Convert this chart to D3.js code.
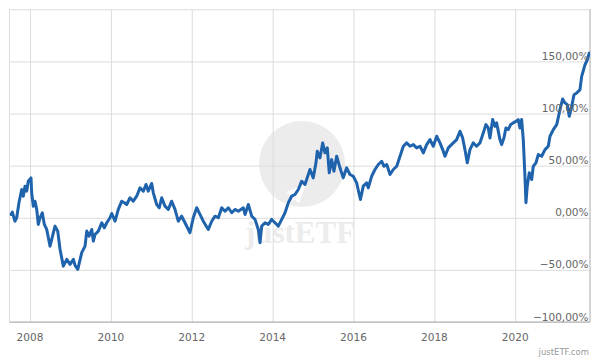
<!DOCTYPE html>
<html><head><meta charset="utf-8">
<script src="https://cdn.jsdelivr.net/npm/d3@7"></script>
<style>
html,body{margin:0;padding:0;background:#fff;}
svg{display:block;font-family:"DejaVu Sans",Verdana,sans-serif;}
</style></head>
<body><svg id="c" width="600" height="360"></svg>
<script>
// decimal years (time axis) and cumulative performance in %
const years = [2007.530,2007.562,2007.629,2007.671,2007.728,2007.795,2007.834,2007.876,2007.918,2007.958,
2008.025,2008.042,2008.082,2008.124,2008.166,2008.205,2008.247,2008.304,2008.354,2008.413,2008.495,2008.576,2008.618,2008.685,2008.742,2008.823,2008.908,2008.989,
2009.071,2009.113,2009.180,2009.278,2009.360,2009.402,2009.459,2009.526,2009.565,2009.607,2009.689,2009.773,2009.837,2009.897,2009.978,
2010.020,2010.102,2010.183,2010.268,2010.332,2010.391,2010.473,2010.554,2010.638,2010.720,2010.802,2010.868,2010.925,
2011.009,2011.049,2011.133,2011.197,2011.257,2011.338,2011.420,2011.504,2011.586,2011.667,2011.751,2011.833,2011.914,2011.956,
2012.038,2012.122,2012.204,2012.285,2012.409,2012.493,2012.575,2012.656,2012.740,2012.822,2012.903,2012.988,
2013.069,2013.151,2013.274,2013.317,2013.398,2013.482,2013.564,2013.645,2013.687,2013.729,2013.811,2013.893,2013.977,
2014.058,2014.140,2014.224,2014.306,2014.387,2014.471,2014.553,2014.635,2014.719,2014.800,2014.882,2014.924,
2015.005,2015.072,2015.104,2015.171,2015.238,2015.295,2015.352,2015.401,2015.460,2015.517,2015.584,2015.666,2015.747,2015.831,2015.913,2015.995,
2016.078,2016.172,2016.242,2016.326,2016.365,2016.449,2016.531,2016.613,2016.697,2016.754,2016.821,2016.902,2016.984,
2017.068,2017.149,2017.231,2017.315,2017.397,2017.478,2017.562,2017.644,2017.726,2017.809,2017.891,2017.973,
2018.057,2018.138,2018.205,2018.262,2018.343,2018.467,2018.551,2018.633,2018.699,2018.756,2018.813,2018.880,2018.961,
2019.045,2019.127,2019.209,2019.276,2019.333,2019.375,2019.442,2019.498,2019.540,2019.622,2019.664,2019.721,2019.770,2019.827,2019.887,2019.951,
2020.018,2020.075,2020.117,2020.159,2020.199,2020.240,2020.265,2020.297,2020.347,2020.406,2020.446,2020.512,2020.569,2020.653,2020.735,2020.816,2020.858,2020.940,
2021.024,2021.105,2021.172,2021.229,2021.286,2021.335,2021.395,2021.452,2021.519,2021.600,2021.642,2021.724,2021.781,2021.830];
const values = [3.2,5.4,-3.3,0,14.7,27.1,20.7,30.3,25.5,35.1,
38.3,23.9,11.1,15.9,8.0,-6.4,0,4.8,-6.4,-11.2,-27.2,-14.4,-8.0,-12.8,-30.4,-46.4,-39.9,-44.7,
-39.9,-45.7,-49.5,-33.5,-27.2,-12.8,-17.6,-11.2,-22.4,-16.0,-12.8,-4.8,-9.6,-4.8,0,
4.1,-3.3,8.0,15.9,14.4,12.7,19.2,15.9,20.7,28.7,25.5,31.9,25.5,
32.9,23.9,12.7,9.6,19.2,11.1,8.0,15.9,8.0,-3.3,1.5,-4.8,-11.2,-14.4,
0,9.6,3.2,-3.3,-11.2,-3.3,1.5,0,9.6,6.3,9.6,4.8,
8.0,6.3,9.6,3.2,12.7,1.5,-1.6,-11.2,-23.9,-8.0,-4.8,-6.4,-1.6,
-4.8,-8.0,-1.6,4.8,14.4,20.7,22.3,27.1,35.1,31.9,41.5,46.3,
38.3,52.7,63.8,57.5,71.8,62.3,67.0,43.1,55.8,44.6,59.0,47.9,38.3,47.9,41.5,39.8,
33.5,17.5,30.3,33.5,28.7,39.8,46.3,51.1,54.2,49.4,51.1,41.5,46.3,
49.4,59.0,68.6,71.8,68.6,70.2,67.0,68.6,62.3,70.2,75.0,68.6,
78.2,71.8,65.4,59.0,67.0,71.8,75.0,83.0,76.6,65.4,52.7,65.4,71.8,
68.6,71.8,81.4,89.4,86.2,76.6,94.2,87.7,91.0,75.0,70.2,76.6,86.2,84.6,89.4,91.0,
92.5,94.2,86.2,94.2,75.0,39.8,14.4,30.3,43.1,36.7,49.4,52.7,60.6,59.0,65.4,68.6,78.2,84.6,
89.4,103.7,114.0,110.2,108.5,97.3,106.9,118.1,119.7,122.9,135.6,146.8,151.6,158.0];
const xTickYears = [2008,2010,2012,2014,2016,2018,2020];
const yTicks = [-100,-50,0,50,100,150,200];
const yLabelTicks = [-100,-50,0,50,100,150];

function toDate(y){
  const yr = Math.floor(y);
  const s = Date.UTC(yr,0,1), e = Date.UTC(yr+1,0,1);
  return new Date(s + (y-yr)*(e-s));
}
const data = years.map((y,i)=>({date:toDate(y), value:values[i]}));

const L=9.5, R=590, T=9.3, B=322;
const x = d3.scaleUtc().domain([toDate(2007.493), toDate(2021.848)]).range([L,R]);
const y = d3.scaleLinear().domain([-100,200]).range([B,T]);

const svg = d3.select("#c");
const fmt = v => d3.format(".2f")(v).replace(".",",").replace("-", "-") + "%";

// watermark
const wm = svg.append("g");
wm.append("circle").attr("cx",302).attr("cy",164).attr("r",43).attr("fill","#ececec");
wm.append("path").attr("d","M252,252 C268,225 282,205 292,196 L286,192 L306,184 L299,203 L294,199 C284,210 270,230 258,254 Z").attr("fill","#fff");
wm.append("text").attr("x",300).attr("y",243).attr("text-anchor","middle")
  .attr("font-family","'Liberation Serif','DejaVu Serif',serif").attr("font-weight","bold")
  .attr("font-size",31).attr("fill","#ececec").text("justETF");

// grid
const gridColor="#dcdcdc";
svg.append("g").attr("transform",`translate(0,${B})`)
  .call(d3.axisBottom(x).tickValues(xTickYears.map(v=>toDate(v))).tickSize(-(B-T)).tickFormat(""))
  .call(g=>g.select(".domain").remove())
  .call(g=>g.selectAll("line").attr("stroke",gridColor));
svg.append("g").attr("transform",`translate(${L},0)`)
  .call(d3.axisLeft(y).tickValues(yTicks).tickSize(-(R-L)).tickFormat(""))
  .call(g=>g.select(".domain").remove())
  .call(g=>g.selectAll("line").attr("stroke",gridColor));
svg.append("line").attr("x1",L).attr("x2",L).attr("y1",T).attr("y2",B).attr("stroke",gridColor);
svg.append("line").attr("x1",R).attr("x2",R).attr("y1",T).attr("y2",B).attr("stroke","#aaa");
svg.append("line").attr("x1",L).attr("x2",R).attr("y1",B).attr("y2",B).attr("stroke","#aaa");

// line
svg.append("defs").append("clipPath").attr("id","clip").append("rect")
  .attr("x",L).attr("y",T).attr("width",R-L).attr("height",B-T);
svg.append("path").datum(data).attr("clip-path","url(#clip)")
  .attr("fill","none").attr("stroke","#1f63ad").attr("stroke-width",3)
  .attr("stroke-linejoin","round").attr("stroke-linecap","round")
  .attr("d", d3.line().x(d=>x(d.date)).y(d=>y(d.value)));

// y labels (inside, right)
svg.append("g").selectAll("text").data(yLabelTicks).join("text")
  .attr("x",588.5).attr("y",d=>y(d)-1.5).attr("text-anchor","end")
  .attr("font-size",10.5).attr("fill","#666").text(d=>fmt(d));

// x labels
svg.append("g").selectAll("text").data(xTickYears).join("text")
  .attr("x",d=>x(toDate(d))).attr("y",341).attr("text-anchor","middle")
  .attr("font-size",10.5).attr("fill","#666").text(d=>d);

svg.append("text").attr("x",589).attr("y",355).attr("text-anchor","end")
  .attr("font-size",8.5).attr("fill","#999").text("justETF.com");
</script></body></html>
